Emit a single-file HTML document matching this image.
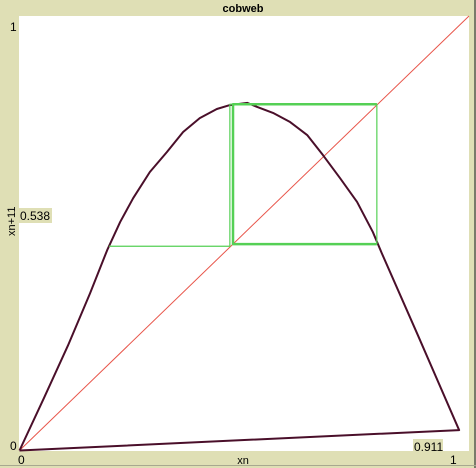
<!DOCTYPE html>
<html><head><meta charset="utf-8"><style>
body{margin:0;width:476px;height:468px;overflow:hidden;background:#dfdfb5;font-family:"Liberation Sans",sans-serif}
</style></head><body>
<svg width="476" height="468" style="position:absolute;left:0;top:0">
<rect x="0" y="0" width="476" height="468" fill="#dfdfb5"/>
<rect x="474" y="0" width="2" height="468" fill="#7a7a6a"/>
<rect x="0" y="465" width="476" height="1" fill="#a8a890"/>
<text x="243" y="12" font-size="11" font-weight="bold" text-anchor="middle">cobweb</text>
<rect x="19" y="16" width="450" height="435" fill="#fff"/>
<g id="marks"></g>
<text x="10" y="31" font-size="12">1</text>
<text x="10" y="450" font-size="12">0</text>
<text x="18" y="464" font-size="12">0</text>
<text x="243" y="464" font-size="11" text-anchor="middle">xn</text>
<text x="450" y="464" font-size="12">1</text>
<text transform="translate(15,236) rotate(-90)" font-size="11">xn+11</text>
<rect x="19" y="208" width="33" height="15" fill="#dfdfb5"/>
<text x="20" y="220" font-size="12">0.538</text>
<rect x="413" y="439" width="30" height="13" fill="#dfdfb5"/>
<text x="414" y="451" font-size="12">0.911</text>
</svg>
<script>
const curveX=[0,0.0545,0.108,0.157,0.195,0.224,0.253,0.290,0.328,0.364,0.401,0.439,0.468,0.507,0.528,0.564,0.602,0.640,0.675,0.713,0.751,0.786,0.806,0.886,0.978,0];
const curveY=[0,0.121,0.242,0.362,0.461,0.526,0.581,0.641,0.687,0.733,0.765,0.786,0.795,0.800,0.791,0.777,0.756,0.726,0.680,0.627,0.572,0.503,0.454,0.266,0.047,0];
const webX=[0.199,0.468,0.468,0.795,0.795];
const webY=[0.470,0.470,0.797,0.797,0.475];
const web2X=[0.795,0.475,0.475,0.795];
const web2Y=[0.475,0.475,0.797,0.797];
const diagX=[0,1];
const diagY=[0,1];
const sx=v=>19.5+v*449.5;
const sy=v=>450.5-v*434.5;
const g=document.getElementById('marks');
const NS='http://www.w3.org/2000/svg';
function pl(xs,ys,color,w,name){
  const p=document.createElementNS(NS,'polyline');
  p.setAttribute('points',xs.map((x,i)=>sx(x)+','+sy(ys[i])).join(' '));
  p.setAttribute('fill','none');p.setAttribute('stroke',color);p.setAttribute('stroke-width',w);
  p.setAttribute('stroke-linejoin','round');
  
  
  g.appendChild(p);
}
pl(diagX,diagY,'#e8554a',1,'diagonal-line');
pl(curveX,curveY,'#4a0f2a',2,'map-curve');
pl(webX,webY,'#55d055',1.2,'cobweb-path');
pl(web2X,web2Y,'#55d055',2.5,'cobweb-cycle');
</script>
</body></html>
